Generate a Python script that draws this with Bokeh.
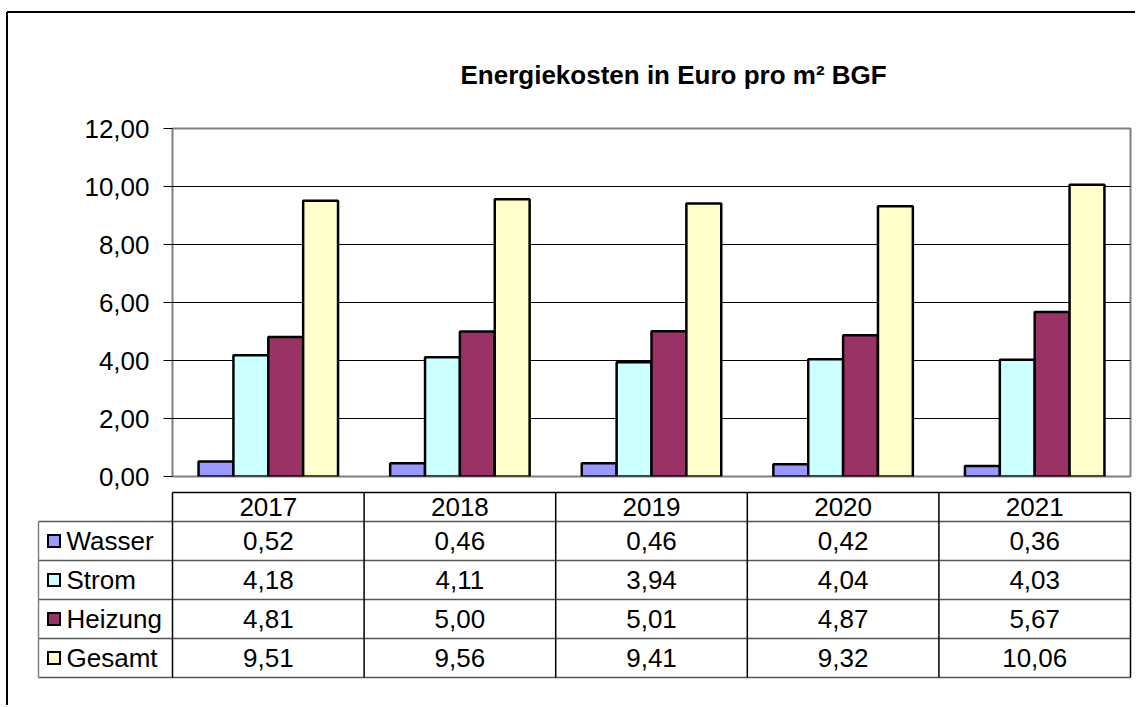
from bokeh.plotting import figure
from bokeh.models import FactorRange, Range1d, FixedTicker, ColumnDataSource, CustomJSTickFormatter
from bokeh.transform import dodge
from bokeh.embed import file_html
from bokeh.resources import INLINE
from bokeh.core.properties import value

# ---- data ----
years = ["2017", "2018", "2019", "2020", "2021"]
series = ["Wasser", "Strom", "Heizung", "Gesamt"]
wasser = [0.52, 0.46, 0.46, 0.42, 0.36]
strom = [4.18, 4.11, 3.94, 4.04, 4.03]
heizung = [4.81, 5.00, 5.01, 4.87, 5.67]
gesamt = [9.51, 9.56, 9.41, 9.32, 10.06]
colors = ["#9999FF", "#CCFFFF", "#993366", "#FFFFCC"]
y_ticks = [0, 2, 4, 6, 8, 10, 12]
title_text = "Energiekosten in Euro pro m² BGF"

values = [wasser, strom, heizung, gesamt]

def de(v):
    return f"{v:.2f}".replace(".", ",")

FONT = "Liberation Sans"
FS = "26px"
W, H = 1135, 705
MB_L, MB_R, MB_T, MB_B = 172, 5, 128, 229
Y_MAX = 12

# ---- chart ----
src = ColumnDataSource(dict(year=years, Wasser=wasser, Strom=strom, Heizung=heizung, Gesamt=gesamt))
p = figure(x_range=FactorRange(factors=years), y_range=Range1d(0, Y_MAX),
           width=W, height=H, output_backend="svg", toolbar_location=None,
           min_border_left=MB_L, min_border_right=MB_R, min_border_top=MB_T,
           min_border_bottom=MB_B, background_fill_color="white", border_fill_color="white")

p.title.text = title_text
p.title.text_font = FONT
p.title.text_font_size = FS
p.title.text_font_style = "bold"
p.title.text_color = "black"
p.title.align = "left"
p.title.offset = 288
p.title.standoff = 77

p.xaxis.visible = False
p.xgrid.visible = False
p.ygrid.ticker = FixedTicker(ticks=y_ticks[1:-1])
p.ygrid.grid_line_color = "black"
p.ygrid.grid_line_width = 1

ya = p.yaxis[0]
ya.ticker = FixedTicker(ticks=y_ticks)
ya.formatter = CustomJSTickFormatter(code="return tick.toFixed(2).replace('.', ',');")
ya.major_label_text_font = FONT
ya.major_label_text_font_size = FS
ya.major_label_text_color = "black"
ya.major_tick_out = 9
ya.major_tick_in = 0
ya.major_tick_line_color = "black"
ya.minor_tick_line_color = None
ya.axis_line_color = None
ya.major_label_standoff = 14

p.outline_line_color = "#808080"
p.outline_line_width = 2

bw = 0.182
offsets = [-1.5 * bw, -0.5 * bw, 0.5 * bw, 1.5 * bw]
for name, col, off in zip(series, colors, offsets):
    p.vbar(x=dodge("year", off, range=p.x_range), top=name, width=bw, source=src,
           fill_color=col, line_color="black", line_width=2.5)

# ---- helpers: pixel offsets (relative to the plot frame) -> synthetic coords ----
n = len(years)
m = len(series)
PXX = (W - MB_L - MB_R) / n          # px per category
PXY = (H - MB_T - MB_B) / Y_MAX      # px per y unit

def dx(px):          # px from frame left edge
    return px / PXX

def dy(px):          # px below frame bottom edge
    return -px / PXY

# outer border (top + left), drawn unclipped
bx = dx(6.5 - MB_L)
by_top = Y_MAX + (MB_T - 11.5) / PXY
by_bot = dy(H - (H - MB_B) + 5)
p.segment(x0=[bx, bx], y0=[by_top, by_top], x1=[bx, dx(W - MB_L + 5)], y1=[by_bot, by_top],
          line_color="black", line_width=2, level="overlay")

# ---- data table below the chart ----
TOP, HDR, ROW, LEG = 16, 29, 39, 134
y_hdr_top = dy(TOP)
y_rows = [dy(TOP + HDR + ROW * r) for r in range(m + 1)]
y_row_mid = [dy(TOP + HDR + ROW * (r + 0.5)) for r in range(m)]
y_hdr_mid = dy(TOP + HDR / 2)
x_leg = dx(-LEG)

p.segment(x0=[0], y0=[y_hdr_top], x1=[n], y1=[y_hdr_top], line_color="black",
          line_width=1.5, level="overlay")
p.segment(x0=[x_leg] * (m + 1), y0=y_rows, x1=[n] * (m + 1), y1=y_rows,
          line_color="#555555", line_width=1.5, level="overlay")
p.segment(x0=list(range(n + 1)), y0=[y_hdr_top] * (n + 1), x1=list(range(n + 1)),
          y1=[y_rows[-1]] * (n + 1), line_color="black", line_width=1.5, level="overlay")
p.segment(x0=[x_leg], y0=[y_rows[0]], x1=[x_leg], y1=[y_rows[-1]], line_color="#808080",
          line_width=1.5, level="overlay")

p.text(x=[i + 0.5 for i in range(n)], y=[y_hdr_mid] * n, text=years,
       text_font=value(FONT), text_font_size=FS, text_align="center",
       text_baseline="middle", text_color="black", level="overlay")

tx, ty, tt = [], [], []
for r, vals in enumerate(values):
    for i, v in enumerate(vals):
        tx.append(i + 0.5)
        ty.append(y_row_mid[r])
        tt.append(de(v))
p.text(x=tx, y=ty, text=tt, text_font=value(FONT), text_font_size=FS,
       text_align="center", text_baseline="middle", text_color="black", level="overlay")

# legend swatches: black square with coloured inner square (segments with butt caps)
sw_c = x_leg + dx(15.5)
p.segment(x0=[sw_c - dx(7)] * m, y0=y_row_mid, x1=[sw_c + dx(7)] * m, y1=y_row_mid,
          line_color="black", line_width=14, line_cap="butt", level="overlay")
for col, yy in zip(colors, y_row_mid):
    p.segment(x0=[sw_c - dx(5)], y0=[yy], x1=[sw_c + dx(5)], y1=[yy],
              line_color=col, line_width=10, line_cap="butt", level="overlay")
p.text(x=[x_leg + dx(28)] * m, y=y_row_mid, text=series,
       text_font=value(FONT), text_font_size=FS, text_align="left",
       text_baseline="middle", text_color="black", level="overlay")

open("out.html", "w").write(file_html(p, INLINE))
